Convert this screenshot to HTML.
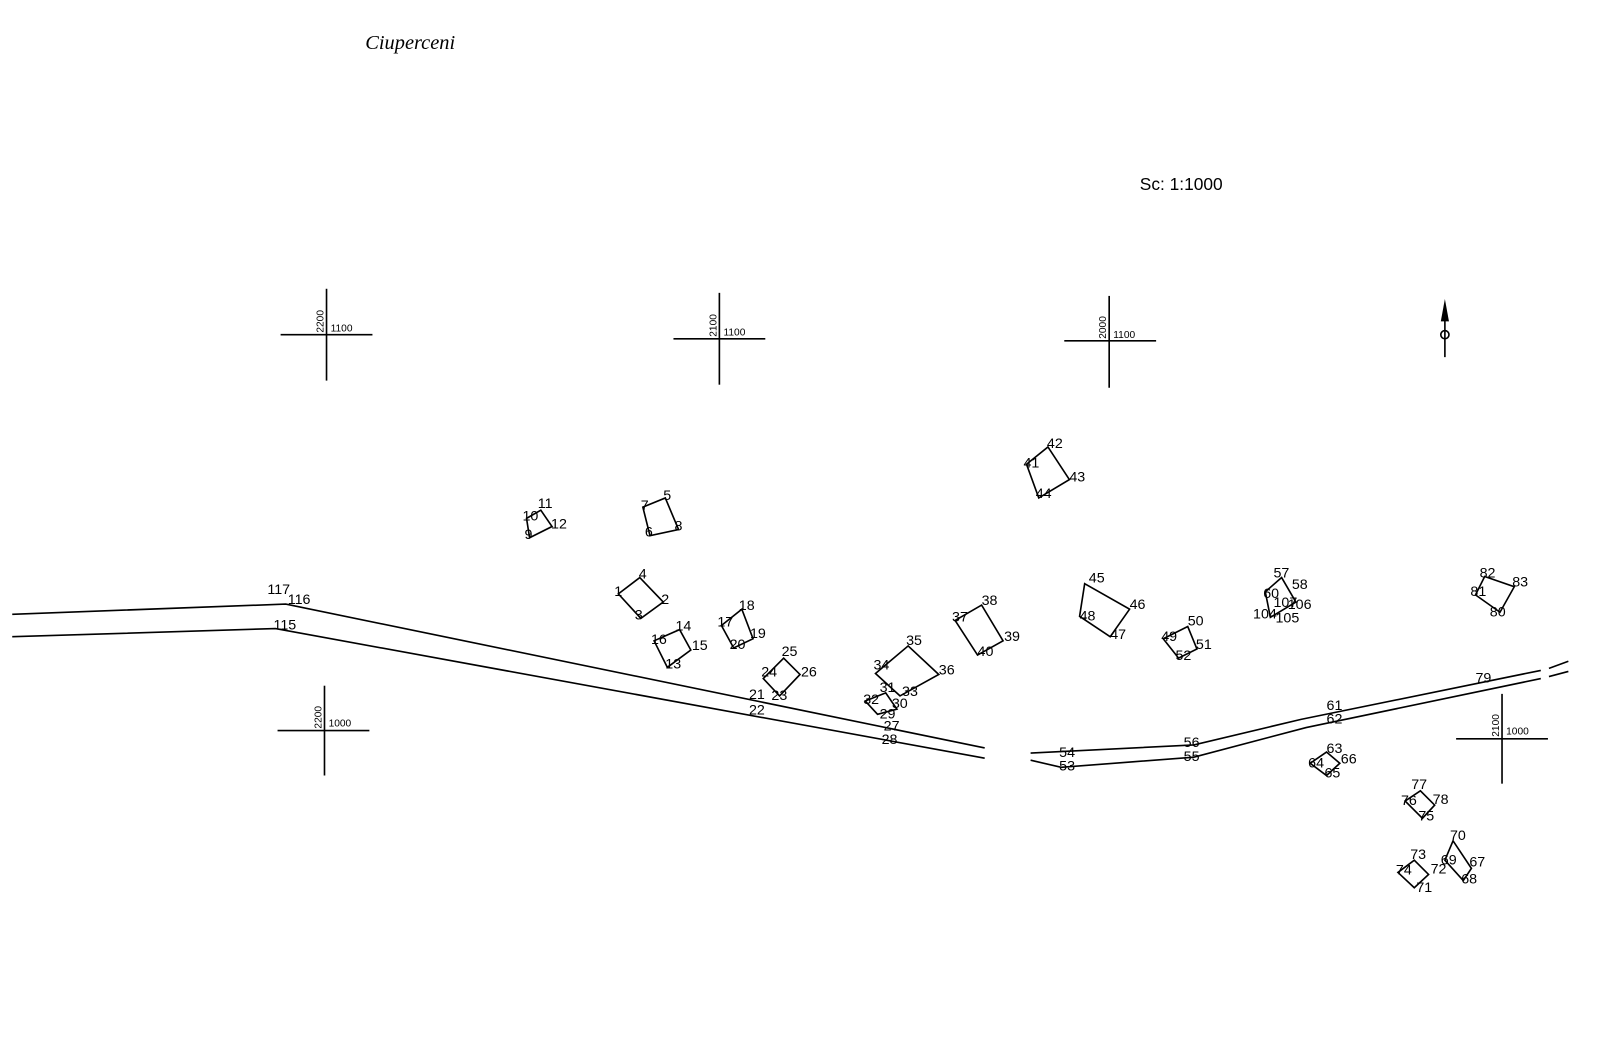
<!DOCTYPE html>
<html><head><meta charset="utf-8"><style>
html,body{margin:0;padding:0;background:#fff;}
svg{display:block;}
text{font-family:"Liberation Sans",sans-serif;font-size:14px;fill:#000;}
.s{font-size:10px;}
</style></head><body>
<svg width="1600" height="1052" viewBox="0 0 1600 1052" xmlns="http://www.w3.org/2000/svg">
<rect width="1600" height="1052" fill="#fff"/>
<g transform="scale(1.0204)">
<g stroke="#000" stroke-width="1.6" fill="none">
<polyline points="12,602 280,592 965,733"/>
<polyline points="12,624 270,616 965,743"/>
<polyline points="1010,738 1170,730 1275,705 1510,657"/>
<polyline points="1010,745 1040,752 1170,742 1280,713 1510,665"/>
<line x1="1518" y1="655" x2="1537" y2="648"/>
<line x1="1518" y1="663" x2="1537" y2="658"/>
<line x1="275" y1="328" x2="365" y2="328"/><line x1="320" y1="283" x2="320" y2="373"/>
<line x1="660" y1="332" x2="750" y2="332"/><line x1="705" y1="287" x2="705" y2="377"/>
<line x1="1043" y1="334" x2="1133" y2="334"/><line x1="1087" y1="290" x2="1087" y2="380"/>
<line x1="272" y1="716" x2="362" y2="716"/><line x1="318" y1="672" x2="318" y2="760"/>
<line x1="1427" y1="724" x2="1517" y2="724"/><line x1="1472" y1="680" x2="1472" y2="768"/>
<line x1="1416" y1="300" x2="1416" y2="350"/>
<circle cx="1416" cy="328" r="4"/>
<polygon points="516,508 530,500 541,516 519,527"/>
<polygon points="630,497 652,488 665,519 637,525"/>
<polygon points="606,582 627,566 650,590 628,606"/>
<polygon points="641,628 666,617 677,637 654,654"/>
<polygon points="707,613 727,597 738,626 719,635"/>
<polygon points="748,665 768,645 784,661 764,682"/>
<polygon points="858,660 890,633 920,661 882,682"/>
<polygon points="848,687 868,679 879,695 860,700"/>
<polygon points="936,608 962,593 983,628 958,642"/>
<polygon points="1006,455 1027,438 1048,470 1018,488"/>
<polygon points="1063,572 1107,597 1088,624 1058,604"/>
<polygon points="1140,626 1164,614 1173,636 1155,645"/>
<polygon points="1240,580 1256,566 1270,590 1245,605"/>
<polygon points="1446,583 1455,565 1484,575 1470,600"/>
<polygon points="1284,748 1300,737 1313,748 1300,760"/>
<polygon points="1377,785 1392,775 1406,789 1394,802"/>
<polygon points="1370,855 1386,843 1400,857 1386,870"/>
<polygon points="1416,843 1424,824 1442,851 1434,863"/>
</g>
<polygon points="1416,293 1412,315 1420,315" fill="#000"/>
<text class="s" transform="translate(317,326) rotate(-90)">2200</text><text class="s" x="324" y="325">1100</text>
<text class="s" transform="translate(702,330) rotate(-90)">2100</text><text class="s" x="709" y="329">1100</text>
<text class="s" transform="translate(1084,332) rotate(-90)">2000</text><text class="s" x="1091" y="331">1100</text>
<text class="s" transform="translate(315,714) rotate(-90)">2200</text><text class="s" x="322" y="712">1000</text>
<text class="s" transform="translate(1469,722) rotate(-90)">2100</text><text class="s" x="1476" y="720">1000</text>
<text x="1117" y="186" style="font-size:17px">Sc: 1:1000</text>
<text x="358" y="48" style="font-family:'Liberation Serif',serif;font-style:italic;font-size:20px">Ciuperceni</text>
<g>
<text x="262" y="582">117</text><text x="282" y="592">116</text><text x="268" y="617">115</text>
<text x="512" y="510">10</text><text x="527" y="498">11</text><text x="540" y="518">12</text><text x="514" y="528">9</text>
<text x="628" y="500">7</text><text x="650" y="490">5</text><text x="661" y="520">8</text><text x="632" y="526">6</text>
<text x="602" y="584">1</text><text x="626" y="567">4</text><text x="648" y="592">2</text><text x="622" y="607">3</text>
<text x="638" y="631">16</text><text x="662" y="618">14</text><text x="678" y="637">15</text><text x="652" y="655">13</text>
<text x="703" y="614">17</text><text x="724" y="598">18</text><text x="735" y="625">19</text><text x="715" y="636">20</text>
<text x="746" y="663">24</text><text x="766" y="643">25</text><text x="785" y="663">26</text><text x="734" y="685">21</text><text x="756" y="686">23</text><text x="734" y="700">22</text>
<text x="856" y="656">34</text><text x="888" y="632">35</text><text x="920" y="661">36</text><text x="862" y="678">31</text><text x="884" y="682">33</text>
<text x="846" y="690">32</text><text x="874" y="694">30</text><text x="862" y="704">29</text><text x="866" y="716">27</text><text x="864" y="729">28</text>
<text x="933" y="609">37</text><text x="962" y="593">38</text><text x="984" y="628">39</text><text x="958" y="643">40</text>
<text x="1003" y="458">41</text><text x="1026" y="439">42</text><text x="1048" y="472">43</text><text x="1015" y="488">44</text>
<text x="1067" y="571">45</text><text x="1107" y="597">46</text><text x="1088" y="626">47</text><text x="1058" y="608">48</text>
<text x="1138" y="628">49</text><text x="1164" y="613">50</text><text x="1172" y="636">51</text><text x="1152" y="647">52</text>
<text x="1038" y="742">54</text><text x="1038" y="755">53</text><text x="1160" y="732">56</text><text x="1160" y="746">55</text>
<text x="1248" y="566">57</text><text x="1266" y="577">58</text><text x="1238" y="586">60</text><text x="1248" y="595">107</text><text x="1262" y="597">106</text>
<text x="1228" y="606">104</text><text x="1250" y="610">105</text>
<text x="1300" y="696">61</text><text x="1300" y="709">62</text><text x="1446" y="669">79</text>
<text x="1300" y="738">63</text><text x="1282" y="752">64</text><text x="1314" y="748">66</text><text x="1298" y="762">65</text>
<text x="1383" y="773">77</text><text x="1373" y="789">76</text><text x="1404" y="788">78</text><text x="1390" y="804">75</text>
<text x="1421" y="823">70</text><text x="1412" y="847">69</text><text x="1440" y="849">67</text><text x="1432" y="866">68</text>
<text x="1382" y="842">73</text><text x="1368" y="857">74</text><text x="1402" y="856">72</text><text x="1388" y="874">71</text>
<text x="1450" y="566">82</text><text x="1482" y="575">83</text><text x="1441" y="584">81</text><text x="1460" y="604">80</text>
</g>
</g>
</svg>
</body></html>
